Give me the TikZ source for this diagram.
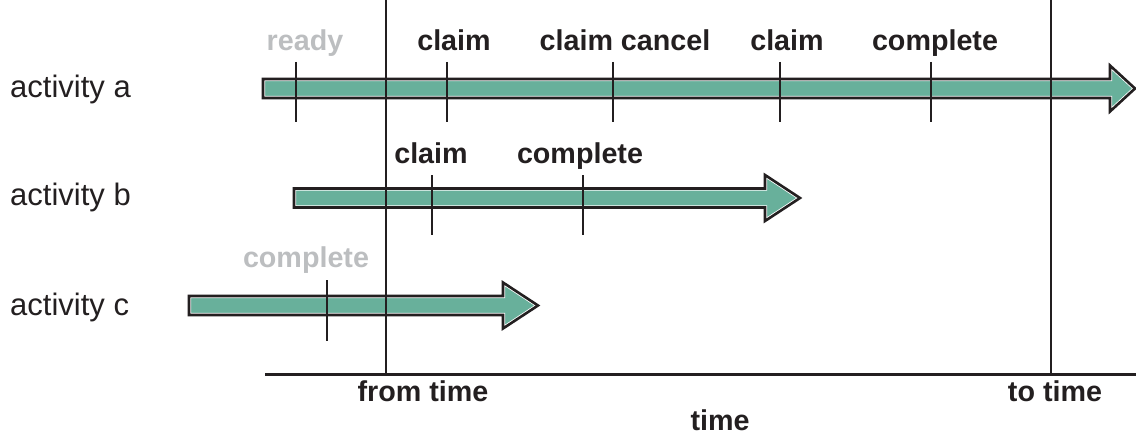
\documentclass[tikz,border=0pt]{standalone}
\usepackage{fontspec}
\setmainfont{Liberation Sans}
\definecolor{teal}{RGB}{104,176,155}
\definecolor{lightgray}{RGB}{188,190,192}
\definecolor{ink}{RGB}{35,31,32}
\newcommand\tlarrow[4]{% left x, centre y, head start x, tip x
  \path[fill=teal] (#1,#2-9.5) -- (#3,#2-9.5) -- (#3,#2-23) -- (#4,#2) -- (#3,#2+23) -- (#3,#2+9.5) -- (#1,#2+9.5) -- cycle;
  \draw[white,line width=4.2,line join=miter] (#1,#2-9.5) -- (#3,#2-9.5) -- (#3,#2-23) -- (#4,#2) -- (#3,#2+23) -- (#3,#2+9.5) -- (#1,#2+9.5) -- cycle;
  \draw[ink,line width=2.6,line join=miter] (#1,#2-9.5) -- (#3,#2-9.5) -- (#3,#2-23) -- (#4,#2) -- (#3,#2+23) -- (#3,#2+9.5) -- (#1,#2+9.5) -- cycle;
}
\tikzset{
  actlabel/.style={anchor=base west,inner sep=0pt,font=\fontsize{31}{34}\selectfont,text=ink},
  evlabel/.style={anchor=base,inner sep=0pt,font=\bfseries\fontsize{28.7}{32}\selectfont,text=ink},
  oldlabel/.style={evlabel,text=lightgray},
  tick/.style={draw=ink,line width=2.4},
  boundary/.style={draw=ink,line width=2},
  axis/.style={draw=ink,line width=3},
}
\begin{document}
\begin{tikzpicture}[x=1pt,y=-1pt]
\useasboundingbox (0,0) rectangle (1136,436);
% arrows
\tlarrow{263}{88.5}{1110}{1135}
\tlarrow{294}{198}{765}{800}
\tlarrow{189}{305.5}{503}{538}
% activity labels
\node[actlabel] (acta) at (10,97) {activity a};
\node[actlabel] (actb) at (10,205.5) {activity b};
\node[actlabel] (actc) at (10,315) {activity c};
% axis and boundaries
\coordinate (axl) at (265,374);
\coordinate (axr) at (1136,374);
\coordinate (fromtop) at (386,0);
\coordinate (frombot) at (386,374);
\coordinate (totop) at (1051,0);
\coordinate (tobot) at (1051,374);
\draw[boundary] (fromtop) -- (frombot);
\draw[boundary] (totop) -- (tobot);
\draw[axis] (axl) -- (axr);
\node[evlabel] (fromtime) at (423,401) {from time};
\node[evlabel] (totime) at (1055,401) {to time};
\node[evlabel] (timelbl) at (720,430) {time};
% ticks on a
\foreach \x/\n in {296/a1,447/a2,613/a3,780/a4,931/a5}{
  \coordinate (\n t) at (\x,62);
  \coordinate (\n b) at (\x,122);
  \draw[tick] (\n t) -- (\n b);
}
\foreach \x/\n in {432/b1,583/b2}{
  \coordinate (\n t) at (\x,175);
  \coordinate (\n b) at (\x,235);
  \draw[tick] (\n t) -- (\n b);
}
\coordinate (c1t) at (327,280);
\coordinate (c1b) at (327,341);
\draw[tick] (c1t) -- (c1b);
% event labels
\node[oldlabel] (lready) at (305,51) {ready};
\node[evlabel] (lclaima) at (454,51) {claim};
\node[evlabel] (lcancel) at (625,51) {claim cancel};
\node[evlabel] (lclaimb) at (787,51) {claim};
\node[evlabel] (lcompa) at (935,51) {complete};
\node[evlabel] (lclaimc) at (431,163) {claim};
\node[evlabel] (lcompb) at (580,163) {complete};
\node[oldlabel] (lcompc) at (306,267) {complete};
\end{tikzpicture}
\end{document}
